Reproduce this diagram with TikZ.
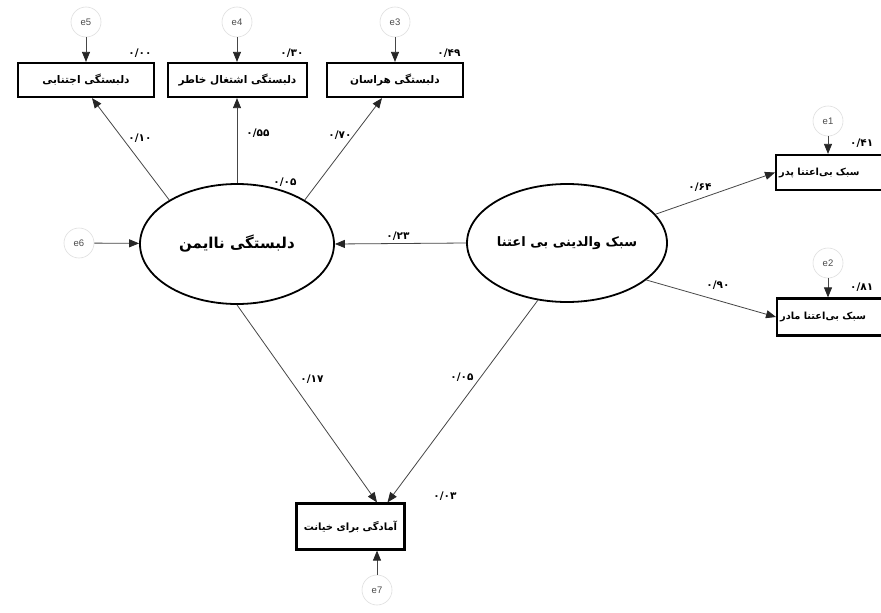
\documentclass[tikz,border=0pt]{standalone}
\usepackage{fontspec}
\usetikzlibrary{shapes.geometric,arrows.meta}
\TeXXeTstate=1
\newfontfamily\fa[Script=Arabic]{DejaVu Sans}
\newfontfamily\errfont{Liberation Sans}
\tikzset{
  obsbox/.style={draw, line width=2.2pt, inner sep=0pt, minimum height=34, font=\fa\bfseries\fontsize{10.5}{11}\selectfont},
  latent/.style={ellipse, draw, line width=1.8pt, inner sep=0pt},
  errc/.style={circle, draw=gray!25, line width=0.6pt, minimum size=30, inner sep=0pt, text=gray!60!black, font=\errfont\fontsize{9.5}{10}\selectfont},
  pth/.style={draw=gray!55!black, line width=0.8pt, -{Triangle[length=10pt,width=8pt,black!85]}},
  lab/.style={inner sep=0pt, font=\fa\bfseries\fontsize{10.5}{11}\selectfont}
}
\begin{document}
\begin{tikzpicture}[x=1pt,y=-1pt]
\useasboundingbox (0,0) rectangle (881,613);
\clip (0,0) rectangle (881,613);
\fill[white] (0,0) rectangle (881,613);
% top indicator boxes
\node[obsbox, minimum width=136] (b5) at (86,80) {\beginR دلبستگی اجتنابی\endR};
\node[obsbox, minimum width=139] (b4) at (237.5,80) {\beginR دلبستگی اشتغال خاطر\endR};
\node[obsbox, minimum width=136] (b3) at (395,80) {\beginR دلبستگی هراسان\endR};
% error terms
\node[errc] (e5) at (86,22) {e5};
\node[errc] (e4) at (237,22) {e4};
\node[errc] (e3) at (395,22) {e3};
\node[errc] (e6) at (79,243) {e6};
\node[errc] (e1) at (828,121) {e1};
\node[errc] (e2) at (828,263) {e2};
\node[errc] (e7) at (377,590) {e7};
% latent variables
\node[latent, minimum width=194, minimum height=120, font=\fa\bfseries\fontsize{15}{16}\selectfont] (L) at (237,244) {\beginR دلبستگی ناایمن\endR};
\node[latent, minimum width=200, minimum height=118, font=\fa\bfseries\fontsize{13}{14}\selectfont] (R) at (567,243) {\beginR سبک والدینی بی اعتنا\endR};
% right boxes (cut by the frame)
\node[obsbox, anchor=west, minimum height=35, text width=140, align=left, inner xsep=3pt, font=\fa\bfseries\fontsize{9.8}{11}\selectfont] (pdr) at (775,172.5) {\beginR سبک بی‌اعتنا پدر\endR};
\node[obsbox, anchor=west, minimum height=37, text width=140, align=left, inner xsep=3pt, font=\fa\bfseries\fontsize{9.8}{11}\selectfont] (mdr) at (776,317) {\beginR سبک بی‌اعتنا مادر\endR};
% outcome box
\node[obsbox, minimum width=108, minimum height=46, font=\fa\bfseries\fontsize{10}{11}\selectfont] (b7) at (350.5,526.5) {\beginR آمادگی برای خیانت\endR};
% error arrows
\draw[pth] (e5) -- (b5);
\draw[pth] (e4) -- (e4 |- b4.north);
\draw[pth] (e3) -- (b3);
\draw[pth] (e6) -- (L);
\draw[pth] (e1) -- (pdr.north -| e1);
\draw[pth] (e2) -- (mdr.north -| e2);
\draw[pth] (e7) -- (e7 |- b7.south);
% structural paths
\draw[pth] (L.147) -- ([xshift=6]b5.south);
\draw[pth] (L.90) -- (L.90 |- b4.south);
\draw[pth] (L.33) -- ([xshift=-13]b3.south);
\draw[pth] (R.west) -- (L.east);
\draw[pth] (R.18) -- (pdr.west);
\draw[pth] (R.-25) -- (mdr.west);
\draw[pth] (L.south) -- ([xshift=26.5]b7.north);
\draw[pth] (R.243.8) -- ([xshift=37]b7.north);
% coefficient labels
\node[lab] (l1) at (140,53) {۰/۰۰};
\node[lab] (l2) at (292,53) {۰/۳۰};
\node[lab] (l3) at (449,53) {۰/۴۹};
\node[lab] (l4) at (140,138) {۰/۱۰};
\node[lab] (l5) at (258,133) {۰/۵۵};
\node[lab] (l6) at (340,135) {۰/۷۰};
\node[lab] (l7) at (285,182) {۰/۰۵};
\node[lab] (l8) at (398,236) {۰/۲۳};
\node[lab] (l9) at (700,187) {۰/۶۴};
\node[lab] (l10) at (718,285) {۰/۹۰};
\node[lab, anchor=west] (l11) at (850,143) {۰/۴۱};
\node[lab, anchor=west] (l12) at (850,287) {۰/۸۱};
\node[lab] (l13) at (312,379) {۰/۱۷};
\node[lab] (l14) at (462,377) {۰/۰۵};
\node[lab] (l15) at (445,496) {۰/۰۳};
\end{tikzpicture}
\end{document}
